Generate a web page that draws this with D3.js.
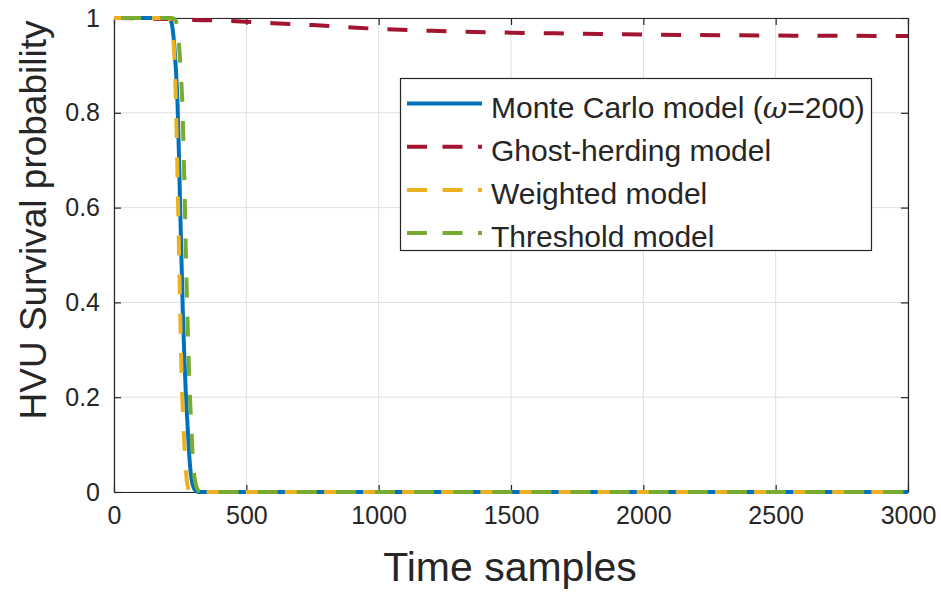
<!DOCTYPE html>
<html>
<head>
<meta charset="utf-8">
<script src="https://cdn.jsdelivr.net/npm/d3@7"></script>
<style>
  body { margin: 0; background: #fff; }
  svg text { font-family: "Liberation Sans", Arial, sans-serif; fill: #262626; }
</style>
</head>
<body>
<svg id="chart" width="941" height="592"></svg>
<script>
const W = 941, H = 592;
const margin = {left: 114, right: 33, top: 18, bottom: 100};

// series: [time sample, survival probability]
const monteCarlo = [
  [0, 1], [200, 1], [210, 0.998], [216, 0.993], [222, 0.975], [228, 0.94],
  [234, 0.89], [240, 0.82], [245, 0.72], [250, 0.6], [255, 0.49], [260, 0.38],
  [266, 0.28], [272, 0.2], [278, 0.14], [284, 0.08], [290, 0.04], [296, 0.018],
  [304, 0.006], [314, 0.001], [325, 0], [3000, 0]
];
const ghostHerding = [
  [0, 1], [100, 0.999], [200, 0.998], [300, 0.996], [400, 0.9945], [500, 0.992],
  [600, 0.989], [750, 0.985], [900, 0.98], [1000, 0.977], [1200, 0.973],
  [1500, 0.969], [1750, 0.967], [2000, 0.965], [2500, 0.963], [3000, 0.962]
];
const weighted = [
  [0, 1], [200, 1], [210, 0.997], [216, 0.99], [222, 0.97], [228, 0.92],
  [233, 0.84], [238, 0.72], [243, 0.58], [248, 0.44], [253, 0.3], [258, 0.2],
  [264, 0.12], [270, 0.06], [276, 0.02], [282, 0.005], [290, 0], [3000, 0]
];
const threshold = [
  [0, 1], [215, 1], [228, 0.998], [234, 0.993], [240, 0.975], [246, 0.94],
  [252, 0.89], [258, 0.82], [263, 0.72], [268, 0.6], [272, 0.49], [277, 0.38],
  [282, 0.28], [287, 0.2], [292, 0.14], [297, 0.08], [302, 0.04], [308, 0.018],
  [315, 0.006], [324, 0.001], [335, 0], [3000, 0]
];

const xTicks = [0, 500, 1000, 1500, 2000, 2500, 3000];
const yTicks = [0, 0.2, 0.4, 0.6, 0.8, 1];
const yTickLabels = ['0', '0.2', '0.4', '0.6', '0.8', '1'];

const series = [
  {name: 'Monte Carlo model (ω=200)', data: monteCarlo, color: '#0072BD', dash: null},
  {name: 'Ghost-herding model', data: ghostHerding, color: '#A2142F', dash: '20,19.1'},
  {name: 'Weighted model', data: weighted, color: '#EDB120', dash: '20,19.1'},
  {name: 'Threshold model', data: threshold, color: '#77AC30', dash: '20,19.1'}
];

const svg = d3.select('#chart');
const x = d3.scaleLinear().domain([0, 3000]).range([margin.left, W - margin.right]);
const y = d3.scaleLinear().domain([0, 1]).range([H - margin.bottom, margin.top]);

// grid
svg.append('g').selectAll('line').data(xTicks).enter().append('line')
    .attr('x1', (d) => x(d)).attr('x2', (d) => x(d))
    .attr('y1', y(0)).attr('y2', y(1))
    .attr('stroke', '#dfdfdf').attr('stroke-width', 1);
svg.append('g').selectAll('line').data(yTicks).enter().append('line')
    .attr('x1', x(0)).attr('x2', x(3000))
    .attr('y1', (d) => y(d)).attr('y2', (d) => y(d))
    .attr('stroke', '#dfdfdf').attr('stroke-width', 1);

// axes box
const axisColor = '#262626';
const tickLen = 7;
const axBottom = svg.append('g').attr('transform', `translate(0,${y(0)})`)
    .call(d3.axisBottom(x).tickValues(xTicks).tickSizeInner(-tickLen).tickSizeOuter(0).tickPadding(14)
        .tickFormat(d3.format('d')));
const axTop = svg.append('g').attr('transform', `translate(0,${y(1)})`)
    .call(d3.axisTop(x).tickValues(xTicks).tickSizeInner(-tickLen).tickSizeOuter(0).tickFormat(''));
const axLeft = svg.append('g').attr('transform', `translate(${x(0)},0)`)
    .call(d3.axisLeft(y).tickValues(yTicks).tickSizeInner(-tickLen).tickSizeOuter(0).tickPadding(14)
        .tickFormat((d, i) => yTickLabels[i]));
const axRight = svg.append('g').attr('transform', `translate(${x(3000)},0)`)
    .call(d3.axisRight(y).tickValues(yTicks).tickSizeInner(-tickLen).tickSizeOuter(0).tickFormat(''));

[axBottom, axTop, axLeft, axRight].forEach((g) => {
  g.select('.domain').attr('stroke', axisColor).attr('stroke-width', 1.2);
  g.selectAll('.tick line').attr('stroke', axisColor).attr('stroke-width', 1.2);
  g.selectAll('.tick text').attr('fill', axisColor)
      .style('font-family', '"Liberation Sans", Arial, sans-serif').style('font-size', '25px');
});
axBottom.selectAll('.tick text').attr('dy', '0.71em');

// curves, drawn over the box like the original
const line = d3.line().x((d) => x(d[0])).y((d) => y(d[1])).curve(d3.curveMonotoneX);
svg.append('clipPath').attr('id', 'plot-clip').append('rect')
    .attr('x', x(0) - 3).attr('y', y(1) - 3)
    .attr('width', x(3000) - x(0) + 3).attr('height', y(0) - y(1) + 6);

const paths = svg.append('g').attr('clip-path', 'url(#plot-clip)')
    .selectAll('path').data(series).enter().append('path')
    .attr('d', (s) => line(s.data))
    .attr('fill', 'none')
    .attr('stroke', (s) => s.color)
    .attr('stroke-width', 4)
    .attr('stroke-dasharray', (s) => s.dash);

// line the dash phases up with the bottom of the plot
const period = 39.1;
const endPhase = {'Weighted model': 115, 'Threshold model': 103};
paths.each(function(s) {
  if (endPhase[s.name] === undefined) return;
  const len = this.getTotalLength();
  const o = (((endPhase[s.name] - len) % period) + period) % period;
  d3.select(this).attr('stroke-dashoffset', o);
});

// axis labels
svg.append('text').attr('x', 510).attr('y', 581)
    .attr('text-anchor', 'middle').style('font-size', '41px').text('Time samples');
svg.append('text').attr('transform', 'translate(46,220) rotate(-90)')
    .attr('text-anchor', 'middle').style('font-size', '37px').text('HVU Survival probability');

// legend
const legend = svg.append('g');
legend.append('rect').attr('x', 400.5).attr('y', 78.5).attr('width', 471).attr('height', 172)
    .attr('fill', '#fff').attr('stroke', axisColor).attr('stroke-width', 1.2);
const rows = legend.selectAll('g.row').data(series).enter().append('g')
    .attr('class', 'row')
    .attr('transform', (s, i) => `translate(0,${103.5 + i * 43.2})`);
rows.append('line').attr('x1', 407).attr('x2', 482).attr('y1', 0).attr('y2', 0)
    .attr('stroke', (s) => s.color).attr('stroke-width', 4)
    .attr('stroke-dasharray', (s) => s.dash ? '20,15.5' : null);
const labels = rows.append('text').attr('x', 491).attr('y', 14).style('font-size', '30px');
labels.each(function(s) {
  const t = d3.select(this);
  if (s.name.indexOf('ω') < 0) { t.text(s.name); return; }
  const parts = s.name.split('ω');
  t.append('tspan').text(parts[0]);
  t.append('tspan').style('font-style', 'italic').style('font-family', '"DejaVu Serif", serif').text('ω');
  t.append('tspan').text(parts[1]);
});
</script>
</body>
</html>
